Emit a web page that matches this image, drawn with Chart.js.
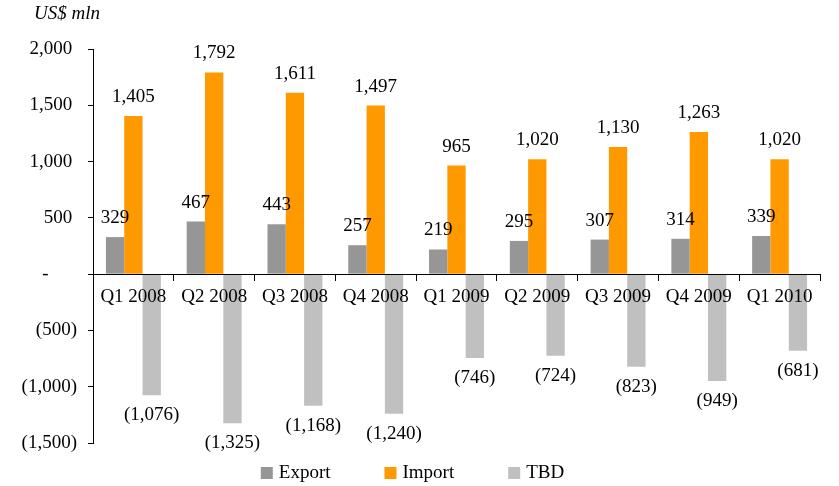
<!DOCTYPE html>
<html>
<head>
<meta charset="utf-8">
<title>Trade balance</title>
<script src="https://cdn.jsdelivr.net/npm/chart.js@4.4.1/dist/chart.umd.min.js"></script>
<style>
  body { margin: 0; background: #fff; }
  #wrap { width: 839px; height: 486px; position: relative; }
</style>
</head>
<body>
<div id="wrap"><canvas id="tradeChart"></canvas></div>
<script>
const quarters = ['Q1 2008', 'Q2 2008', 'Q3 2008', 'Q4 2008', 'Q1 2009', 'Q2 2009', 'Q3 2009', 'Q4 2009', 'Q1 2010'];
const exportVals = [329, 467, 443, 257, 219, 295, 307, 314, 339];
const importVals = [1405, 1792, 1611, 1497, 965, 1020, 1130, 1263, 1020];
const tbdVals = [-1076, -1325, -1168, -1240, -746, -724, -823, -949, -681];

const serif = '"Liberation Serif", "Times New Roman", serif';
const fontSize = 19;

function fmtNum(v) {
    if (v < 0) return '(' + Math.abs(v).toLocaleString('en-US') + ')';
    return v.toLocaleString('en-US');
}

// accounting style axis labels: dash for zero, room for ")" on positives
function fmtAxis(v) {
    if (v === 0) return '-      ';
    if (v < 0) return fmtNum(v);
    return fmtNum(v) + ' ';
}

const valueLabels = {
    id: 'valueLabels',
    afterDatasetsDraw(chart) {
        const ctx = chart.ctx;
        ctx.save();
        ctx.font = fontSize + 'px ' + serif;
        ctx.fillStyle = '#000';
        ctx.textAlign = 'center';
        ctx.textBaseline = 'alphabetic';
        chart.data.datasets.forEach((ds, i) => {
            const meta = chart.getDatasetMeta(i);
            meta.data.forEach((bar, j) => {
                const v = ds.data[j];
                const y = v >= 0 ? bar.y - 14 : bar.y + 25;
                ctx.fillText(fmtNum(v), bar.x, y);
            });
        });
        ctx.restore();
    }
};

const extras = {
    id: 'extras',
    afterDraw(chart) {
        const ctx = chart.ctx;
        ctx.save();
        // unit caption
        ctx.font = 'italic ' + fontSize + 'px ' + serif;
        ctx.fillStyle = '#000';
        ctx.textAlign = 'left';
        ctx.textBaseline = 'middle';
        ctx.fillText('US$ mln', 34, 14);

        // legend
        ctx.font = fontSize + 'px ' + serif;
        const box = 12, gap = 6, spacing = 54;
        const items = chart.data.datasets.map(ds => ({
            text: ds.label, color: ds.backgroundColor, w: ctx.measureText(ds.label).width
        }));
        let total = 0;
        items.forEach((it, i) => { total += box + gap + it.w + (i > 0 ? spacing : 0); });
        let x = (chart.width - total) / 2 - 7;
        const cy = 473;
        items.forEach(it => {
            ctx.fillStyle = it.color;
            ctx.fillRect(x, cy - box / 2, box, box);
            ctx.fillStyle = '#000';
            ctx.fillText(it.text, x + box + gap, cy);
            x += box + gap + it.w + spacing;
        });
        ctx.restore();
    }
};

new Chart(document.getElementById('tradeChart'), {
    type: 'bar',
    data: {
        labels: quarters,
        datasets: [
            { label: 'Export', data: exportVals, backgroundColor: '#969696' },
            { label: 'Import', data: importVals, backgroundColor: '#FF9900' },
            { label: 'TBD', data: tbdVals, backgroundColor: '#C0C0C0' }
        ]
    },
    options: {
        responsive: true,
        maintainAspectRatio: false,
        animation: false,
        datasets: {
            bar: { barPercentage: 1, categoryPercentage: 0.68 }
        },
        layout: {
            padding: { left: 0, right: 19, top: 49, bottom: 43 }
        },
        plugins: {
            legend: { display: false },
            tooltip: { enabled: false }
        },
        scales: {
            x: {
                position: { y: 0 },
                grid: {
                    display: true,
                    drawOnChartArea: false,
                    drawTicks: true,
                    tickLength: 6,
                    color: '#000',
                    offset: true,
                    z: 1
                },
                border: { display: true, color: '#000', width: 1, z: 1 },
                ticks: {
                    color: '#000',
                    padding: 5,
                    z: 1,
                    font: { family: serif, size: fontSize }
                }
            },
            y: {
                min: -1500,
                max: 2000,
                afterFit(scale) { scale.width = 93; },
                grid: {
                    display: true,
                    drawOnChartArea: false,
                    drawTicks: true,
                    tickLength: 5,
                    color: '#000'
                },
                border: { display: true, color: '#000', width: 1 },
                ticks: {
                    stepSize: 500,
                    color: '#000',
                    padding: 11,
                    font: { family: serif, size: fontSize },
                    callback: (v) => fmtAxis(v)
                }
            }
        }
    },
    plugins: [valueLabels, extras]
});
</script>
</body>
</html>
